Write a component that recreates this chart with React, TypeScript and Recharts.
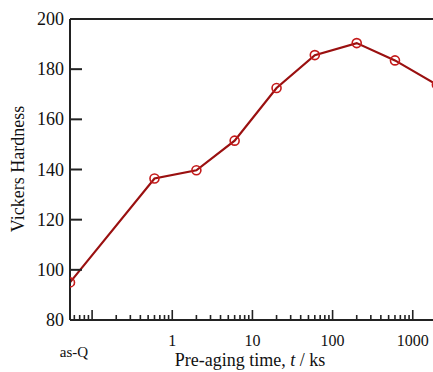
import { LineChart, Line, XAxis, YAxis, ReferenceLine } from 'recharts';

// as-Q sits at the left edge of the log axis
const AS_Q = 0.053;
const AGING_TIME = [AS_Q, 0.6, 2, 6, 20, 60, 200, 600, 2000];
const HARDNESS = [95, 136.4, 139.7, 151.5, 172.5, 185.6, 190.4, 183.5, 173.8];

const MAJOR_TICKS = [0.1, 1, 10, 100, 1000];
const MINOR_TICKS = [
  0.06, 0.07, 0.08, 0.09,
  0.2, 0.3, 0.4, 0.5, 0.6, 0.7, 0.8, 0.9,
  2, 3, 4, 5, 6, 7, 8, 9,
  20, 30, 40, 50, 60, 70, 80, 90,
  200, 300, 400, 500, 600, 700, 800, 900,
  2000,
];
const X_LABELS: Record<string, string> = { '1': '1', '10': '10', '100': '100', '1000': '1000' };
const Y_TICKS = [80, 100, 120, 140, 160, 180, 200];

const data = AGING_TIME.map((t, i) => ({ t, hv: HARDNESS[i] }));
const xTicks = [AS_Q, ...MAJOR_TICKS, ...MINOR_TICKS].sort((a, b) => a - b);

const FONT = '"Liberation Serif", "DejaVu Serif", serif';
const AXIS = '#222';

function XTick({ x, y, payload }: any) {
  const v = payload.value;
  if (v === AS_Q) {
    return (
      <text x={x + 4} y={y + 37} textAnchor="middle" fontFamily={FONT} fontSize={15} fill="#111">
        as-Q
      </text>
    );
  }
  const major = MAJOR_TICKS.includes(v);
  const label = X_LABELS[String(v)];
  return (
    <g>
      <line x1={x} x2={x} y1={y} y2={y - (major ? 10 : 5)} stroke={AXIS} strokeWidth={1.6} />
      {label && (
        <text x={x} y={y + 26} textAnchor="middle" fontFamily={FONT} fontSize={16} fill="#111">
          {label}
        </text>
      )}
    </g>
  );
}

// ticks point inward, into the plot
function YTick({ x, y, payload }: any) {
  const v = payload.value;
  return (
    <g>
      {v !== 80 && v !== 200 && (
        <line x1={x} x2={x + 12} y1={y} y2={y} stroke={AXIS} strokeWidth={2} />
      )}
      <text x={x - 6} y={y + 6} textAnchor="end" fontFamily={FONT} fontSize={18} fill="#111">
        {v}
      </text>
    </g>
  );
}

function XTitle({ viewBox }: any) {
  const cx = viewBox.x + 180;
  return (
    <text x={cx} y={366} textAnchor="middle" fontFamily={FONT} fontSize={18} fill="#111">
      Pre-aging time, <tspan fontStyle="italic">t</tspan> / ks
    </text>
  );
}

function YTitle() {
  return (
    <text
      x={24}
      y={169}
      transform="rotate(-90 24 169)"
      textAnchor="middle"
      fontFamily={FONT}
      fontSize={18}
      fill="#111"
    >
      Vickers Hardness
    </text>
  );
}

export default function App() {
  return (
    <div style={{ position: 'absolute', left: 0, top: 0, width: 433, height: 372, overflow: 'hidden', background: '#fff' }}>
      <LineChart width={470} height={372} data={data} margin={{ top: 19, right: 19, bottom: 0, left: 0 }}>
        <XAxis
          dataKey="t"
          type="number"
          scale="log"
          domain={[AS_Q, 3000]}
          allowDataOverflow
          ticks={xTicks}
          interval={0}
          tick={<XTick />}
          tickLine={false}
          tickSize={0}
          tickMargin={0}
          height={52}
          axisLine={{ stroke: AXIS, strokeWidth: 2 }}
          label={<XTitle />}
        />
        <YAxis
          type="number"
          domain={[80, 200]}
          ticks={Y_TICKS}
          interval={0}
          tick={<YTick />}
          tickLine={false}
          tickSize={0}
          tickMargin={0}
          width={70}
          axisLine={{ stroke: AXIS, strokeWidth: 2 }}
          label={<YTitle />}
        />
        <ReferenceLine y={200} stroke={AXIS} strokeWidth={2} />
        <Line
          dataKey="hv"
          stroke="#9a1010"
          strokeWidth={2.2}
          dot={{ r: 4.5, stroke: '#c41a1a', strokeWidth: 1.6, fill: 'none' }}
          isAnimationActive={false}
        />
      </LineChart>
    </div>
  );
}
